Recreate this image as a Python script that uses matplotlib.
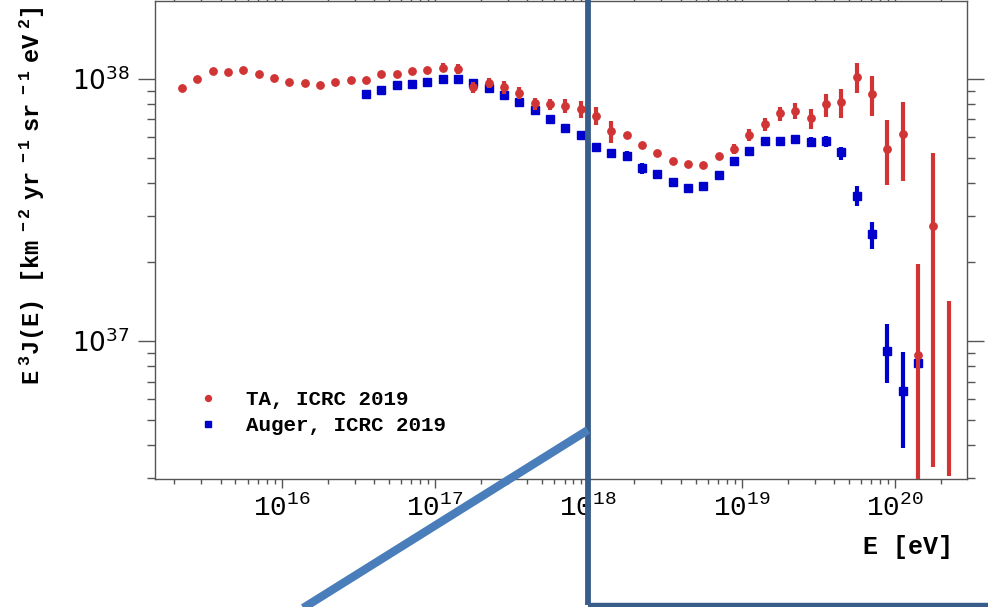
import numpy as np
import matplotlib.pyplot as plt
from matplotlib.lines import Line2D
from matplotlib.ticker import LogLocator, FuncFormatter, NullFormatter

# TA spectrum, ICRC 2019 (E^3 J in units of 1e37)
ta_lg_e = [15.35, 15.45, 15.55, 15.65, 15.75, 15.85, 15.95, 16.05, 16.15, 16.25,
           16.35, 16.45, 16.55, 16.65, 16.75, 16.85, 16.95, 17.05, 17.15, 17.25,
           17.35, 17.45, 17.55, 17.65, 17.75, 17.85, 17.95, 18.05, 18.15, 18.25,
           18.35, 18.45, 18.55, 18.65, 18.75, 18.85, 18.95, 19.05, 19.15, 19.25,
           19.35, 19.45, 19.55, 19.65, 19.75, 19.85, 19.95, 20.05, 20.15, 20.25]
ta_flux = [9.24, 9.95, 10.67, 10.63, 10.77, 10.42, 10.06, 9.74, 9.63, 9.44,
           9.71, 9.86, 9.86, 10.39, 10.42, 10.67, 10.82, 10.96, 10.86, 9.27,
           9.66, 9.32, 8.84, 8.06, 8.01, 7.89, 7.66, 7.23, 6.32, 6.10,
           5.60, 5.19, 4.86, 4.74, 4.70, 5.09, 5.38, 6.10, 6.70, 7.38,
           7.55, 7.06, 7.99, 8.13, 10.12, 8.72, 5.41, 6.14, 0.884, 2.74]
ta_hi = [9.24, 9.95, 10.67, 10.63, 10.77, 10.42, 10.06, 9.74, 9.63, 9.44,
         9.71, 9.86, 9.86, 10.39, 10.42, 10.67, 10.90, 11.45, 11.35, 9.69,
         10.09, 9.80, 9.32, 8.42, 8.35, 8.35, 8.24, 7.82, 6.92, 6.10,
         5.60, 5.19, 4.86, 4.74, 4.70, 5.09, 5.62, 6.41, 7.06, 7.78,
         8.10, 7.64, 8.74, 9.11, 11.45, 10.24, 6.96, 8.17, 1.96, 5.19]
ta_lo = [9.24, 9.95, 10.67, 10.63, 10.77, 10.42, 10.06, 9.74, 9.63, 9.44,
         9.71, 9.86, 9.86, 10.39, 10.42, 10.67, 10.74, 10.58, 10.39, 8.80,
         9.19, 8.72, 8.37, 7.60, 7.60, 7.38, 7.10, 6.66, 5.67, 6.10,
         5.60, 5.19, 4.86, 4.74, 4.70, 5.09, 5.16, 5.79, 6.33, 6.92,
         7.00, 6.41, 7.16, 7.10, 8.80, 7.23, 3.93, 4.08, 0.20, 0.332]
# last TA bin: only the interval is shown
ta_last_lg_e = [20.35]
ta_last_lo = [0.307]
ta_last_hi = [1.42]

# Auger spectrum, ICRC 2019 (E^3 J in units of 1e37)
au_lg_e = [16.55, 16.65, 16.75, 16.85, 16.95, 17.05, 17.15, 17.25, 17.35, 17.45,
           17.55, 17.65, 17.75, 17.85, 17.95, 18.05, 18.15, 18.25, 18.35, 18.45,
           18.55, 18.65, 18.75, 18.85, 18.95, 19.05, 19.15, 19.25, 19.35, 19.45,
           19.55, 19.65, 19.75, 19.85, 19.95, 20.05, 20.15]
au_flux = [8.74, 9.03, 9.46, 9.54, 9.74, 9.97, 9.95, 9.60, 9.19, 8.67,
           8.13, 7.62, 7.00, 6.50, 6.08, 5.50, 5.19, 5.09, 4.55, 4.32,
           4.03, 3.84, 3.89, 4.30, 4.84, 5.31, 5.80, 5.80, 5.91, 5.72,
           5.80, 5.24, 3.58, 2.56, 0.918, 0.645, 0.822]
au_hi = [8.74, 9.03, 9.46, 9.54, 9.74, 9.97, 9.95, 9.60, 9.19, 8.67,
         8.13, 7.62, 7.00, 6.50, 6.08, 5.50, 5.19, 5.30, 4.78, 4.32,
         4.03, 3.84, 3.89, 4.30, 4.84, 5.31, 5.80, 5.80, 5.91, 5.98,
         6.06, 5.50, 3.90, 2.85, 1.16, 0.910, 0.85]
au_lo = [8.74, 9.03, 9.46, 9.54, 9.74, 9.97, 9.95, 9.60, 9.19, 8.67,
         8.13, 7.62, 7.00, 6.50, 6.08, 5.50, 5.19, 4.90, 4.33, 4.32,
         4.03, 3.84, 3.89, 4.30, 4.84, 5.31, 5.80, 5.80, 5.91, 5.48,
         5.50, 4.90, 3.28, 2.24, 0.690, 0.390, 0.79]

legend_labels = ['TA, ICRC 2019', 'Auger, ICRC 2019']

SCALE = 1e37
RED = '#d13434'
BLUE = '#0000cc'
MONO = 'Liberation Mono'


def to_arrays(lg_e, flux, lo, hi):
    e = 10 ** np.array(lg_e)
    f = np.array(flux) * SCALE
    err = [f - np.array(lo) * SCALE, np.array(hi) * SCALE - f]
    return e, f, err


fig = plt.figure(figsize=(9.88, 6.07), dpi=100)
ax = fig.add_axes([155 / 988, 1 - 479 / 607, (967 - 155) / 988, 478 / 607])

e, f, err = to_arrays(au_lg_e, au_flux, au_lo, au_hi)
au = ax.errorbar(e, f, yerr=err, fmt='s', ms=5.5, color=BLUE, mec=BLUE,
                 elinewidth=3, capsize=0, zorder=3)

e, f, err = to_arrays(ta_lg_e, ta_flux, ta_lo, ta_hi)
ta = ax.errorbar(e, f, yerr=err, fmt='o', ms=5.3, color=RED, mec=RED,
                 elinewidth=3, capsize=0, zorder=4)
ax.vlines(10 ** np.array(ta_last_lg_e), np.array(ta_last_lo) * SCALE,
          np.array(ta_last_hi) * SCALE, color=RED, lw=3, zorder=4)

ax.set_xscale('log')
ax.set_yscale('log')
ax.set_xlim(10 ** 15.175, 10 ** 20.469)
ax.set_ylim(10 ** 36.474, 10 ** 38.296)

for sp in ax.spines.values():
    sp.set_color('#555555')
    sp.set_linewidth(1.0)

ax.xaxis.set_major_locator(LogLocator(base=10, numticks=20))
ax.xaxis.set_minor_locator(LogLocator(base=10, subs=np.arange(2, 10), numticks=20))
ax.yaxis.set_major_locator(LogLocator(base=10, numticks=20))
ax.yaxis.set_minor_locator(LogLocator(base=10, subs=np.arange(2, 10), numticks=20))

decade = FuncFormatter(lambda v, pos: r'$\mathregular{10^{%d}}$' % round(np.log10(v)))
ax.xaxis.set_major_formatter(decade)
ax.yaxis.set_major_formatter(decade)
ax.xaxis.set_minor_formatter(NullFormatter())
ax.yaxis.set_minor_formatter(NullFormatter())

ax.tick_params(axis='both', which='both', direction='out', color='#555555',
               top=True, right=True, width=1.0)
ax.tick_params(axis='x', which='major', length=6.7, pad=5, labelsize=20,
               labelfontfamily=MONO)
ax.tick_params(axis='x', which='minor', length=3.6)
ax.tick_params(axis='y', which='major', length=12.2, pad=6, labelsize=19,
               labelfontfamily='DejaVu Sans')
ax.tick_params(axis='y', which='minor', length=6.1)

fig.text(953 / 988, 1 - 547 / 607, 'E [eV]', ha='right', va='center',
         fontsize=18, fontweight='bold', family=MONO)
fig.text(32 / 988, 1 - 6 / 607,
         r'$\mathregular{E^{\ 3}J(E)\ \ [km^{\ -2}\ yr^{\ -1}\ sr^{\ -1}\ eV^{\ 2}]}$',
         rotation=90, ha='center', va='top', fontsize=17, fontweight='bold',
         family=MONO)

ax.legend(handles=[ta[0], au[0]], labels=legend_labels, loc='upper left',
          frameon=False, bbox_to_anchor=(198 / 988, 1 - 390 / 607),
          bbox_transform=fig.transFigure, borderpad=0, borderaxespad=0,
          handlelength=1.0, handletextpad=1.3, labelspacing=0.35, markerscale=0.8,
          prop={'family': MONO, 'size': 15, 'weight': 'bold'})

# zoom-box outline and connector drawn on top of the figure
fig.add_artist(Line2D([588 / 988, 588 / 988], [1.0, 1 - 605 / 607],
                      transform=fig.transFigure, color='#385d8a', lw=4.2,
                      solid_capstyle='butt'))
fig.add_artist(Line2D([588 / 988, 1.0], [1 - 605 / 607, 1 - 605 / 607],
                      transform=fig.transFigure, color='#385d8a', lw=3.2,
                      solid_capstyle='butt'))
fig.add_artist(Line2D([300 / 988, 588 / 988], [1 - 610 / 607, 1 - 430 / 607],
                      transform=fig.transFigure, color='#4a7ebb', lw=6,
                      solid_capstyle='butt'))

fig.savefig('out.png', dpi=100)
